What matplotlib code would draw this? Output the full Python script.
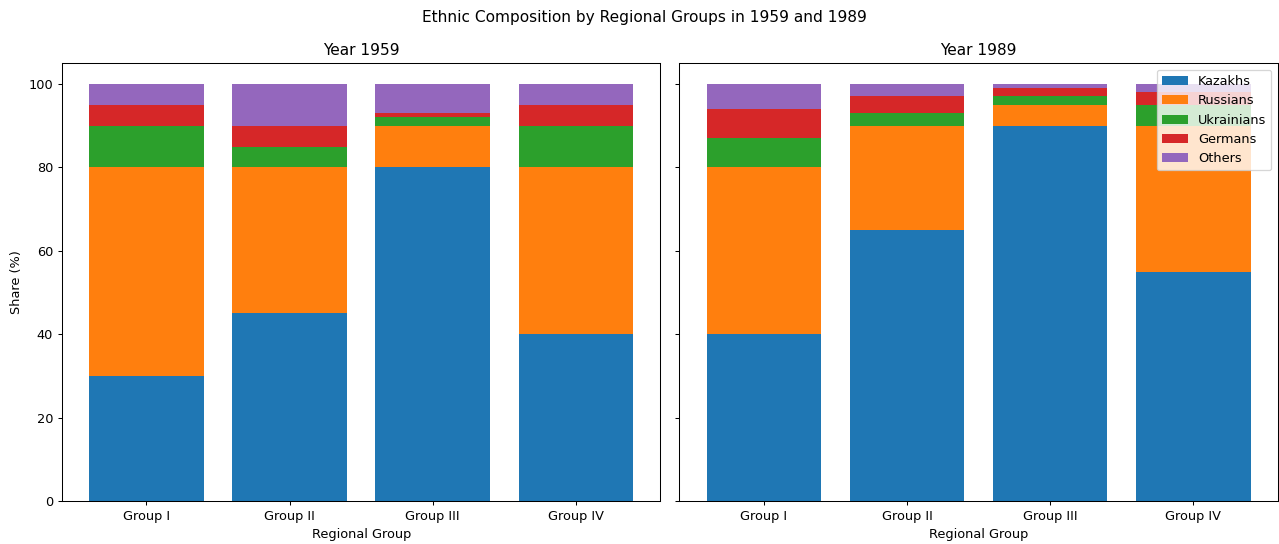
import matplotlib
matplotlib.use("Agg")
import matplotlib.pyplot as plt
import numpy as np

groups = ["Group I", "Group II", "Group III", "Group IV"]
ethnic = ["Kazakhs", "Russians", "Ukrainians", "Germans", "Others"]

kazakhs_1959 = [30, 45, 80, 40]
russians_1959 = [50, 35, 10, 40]
ukrainians_1959 = [10, 5, 2, 10]
germans_1959 = [5, 5, 1, 5]
others_1959 = [5, 10, 7, 5]

kazakhs_1989 = [40, 65, 90, 55]
russians_1989 = [40, 25, 5, 35]
ukrainians_1989 = [7, 3, 2, 5]
germans_1989 = [7, 4, 2, 3]
others_1989 = [6, 3, 1, 2]

data = {
    "1959": [kazakhs_1959, russians_1959, ukrainians_1959, germans_1959, others_1959],
    "1989": [kazakhs_1989, russians_1989, ukrainians_1989, germans_1989, others_1989],
}
colors = ["#1f77b4", "#ff7f0e", "#2ca02c", "#d62728", "#9467bd"]

DPI = 92.5
fig, axes = plt.subplots(1, 2, figsize=(1279 / DPI, 544 / DPI), dpi=DPI, sharey=True)
x = np.arange(len(groups))
for ax, (year, series) in zip(axes, data.items()):
    bottom = np.zeros(len(groups))
    for name, vals, c in zip(ethnic, series, colors):
        ax.bar(x, vals, bottom=bottom, label=name, color=c)
        bottom += np.array(vals)
    ax.set_xticks(x)
    ax.set_xticklabels(groups)
    ax.set_title(f"Year {year}")
    ax.set_xlabel("Regional Group")
axes[0].set_ylabel("Share (%)")
axes[1].legend(loc="upper right")
fig.suptitle("Ethnic Composition by Regional Groups in 1959 and 1989", x=0.504, y=0.981)
fig.subplots_adjust(left=0.0485, right=0.999, top=0.884, bottom=0.079, wspace=0.032)
fig.savefig("out.png", dpi=DPI)
